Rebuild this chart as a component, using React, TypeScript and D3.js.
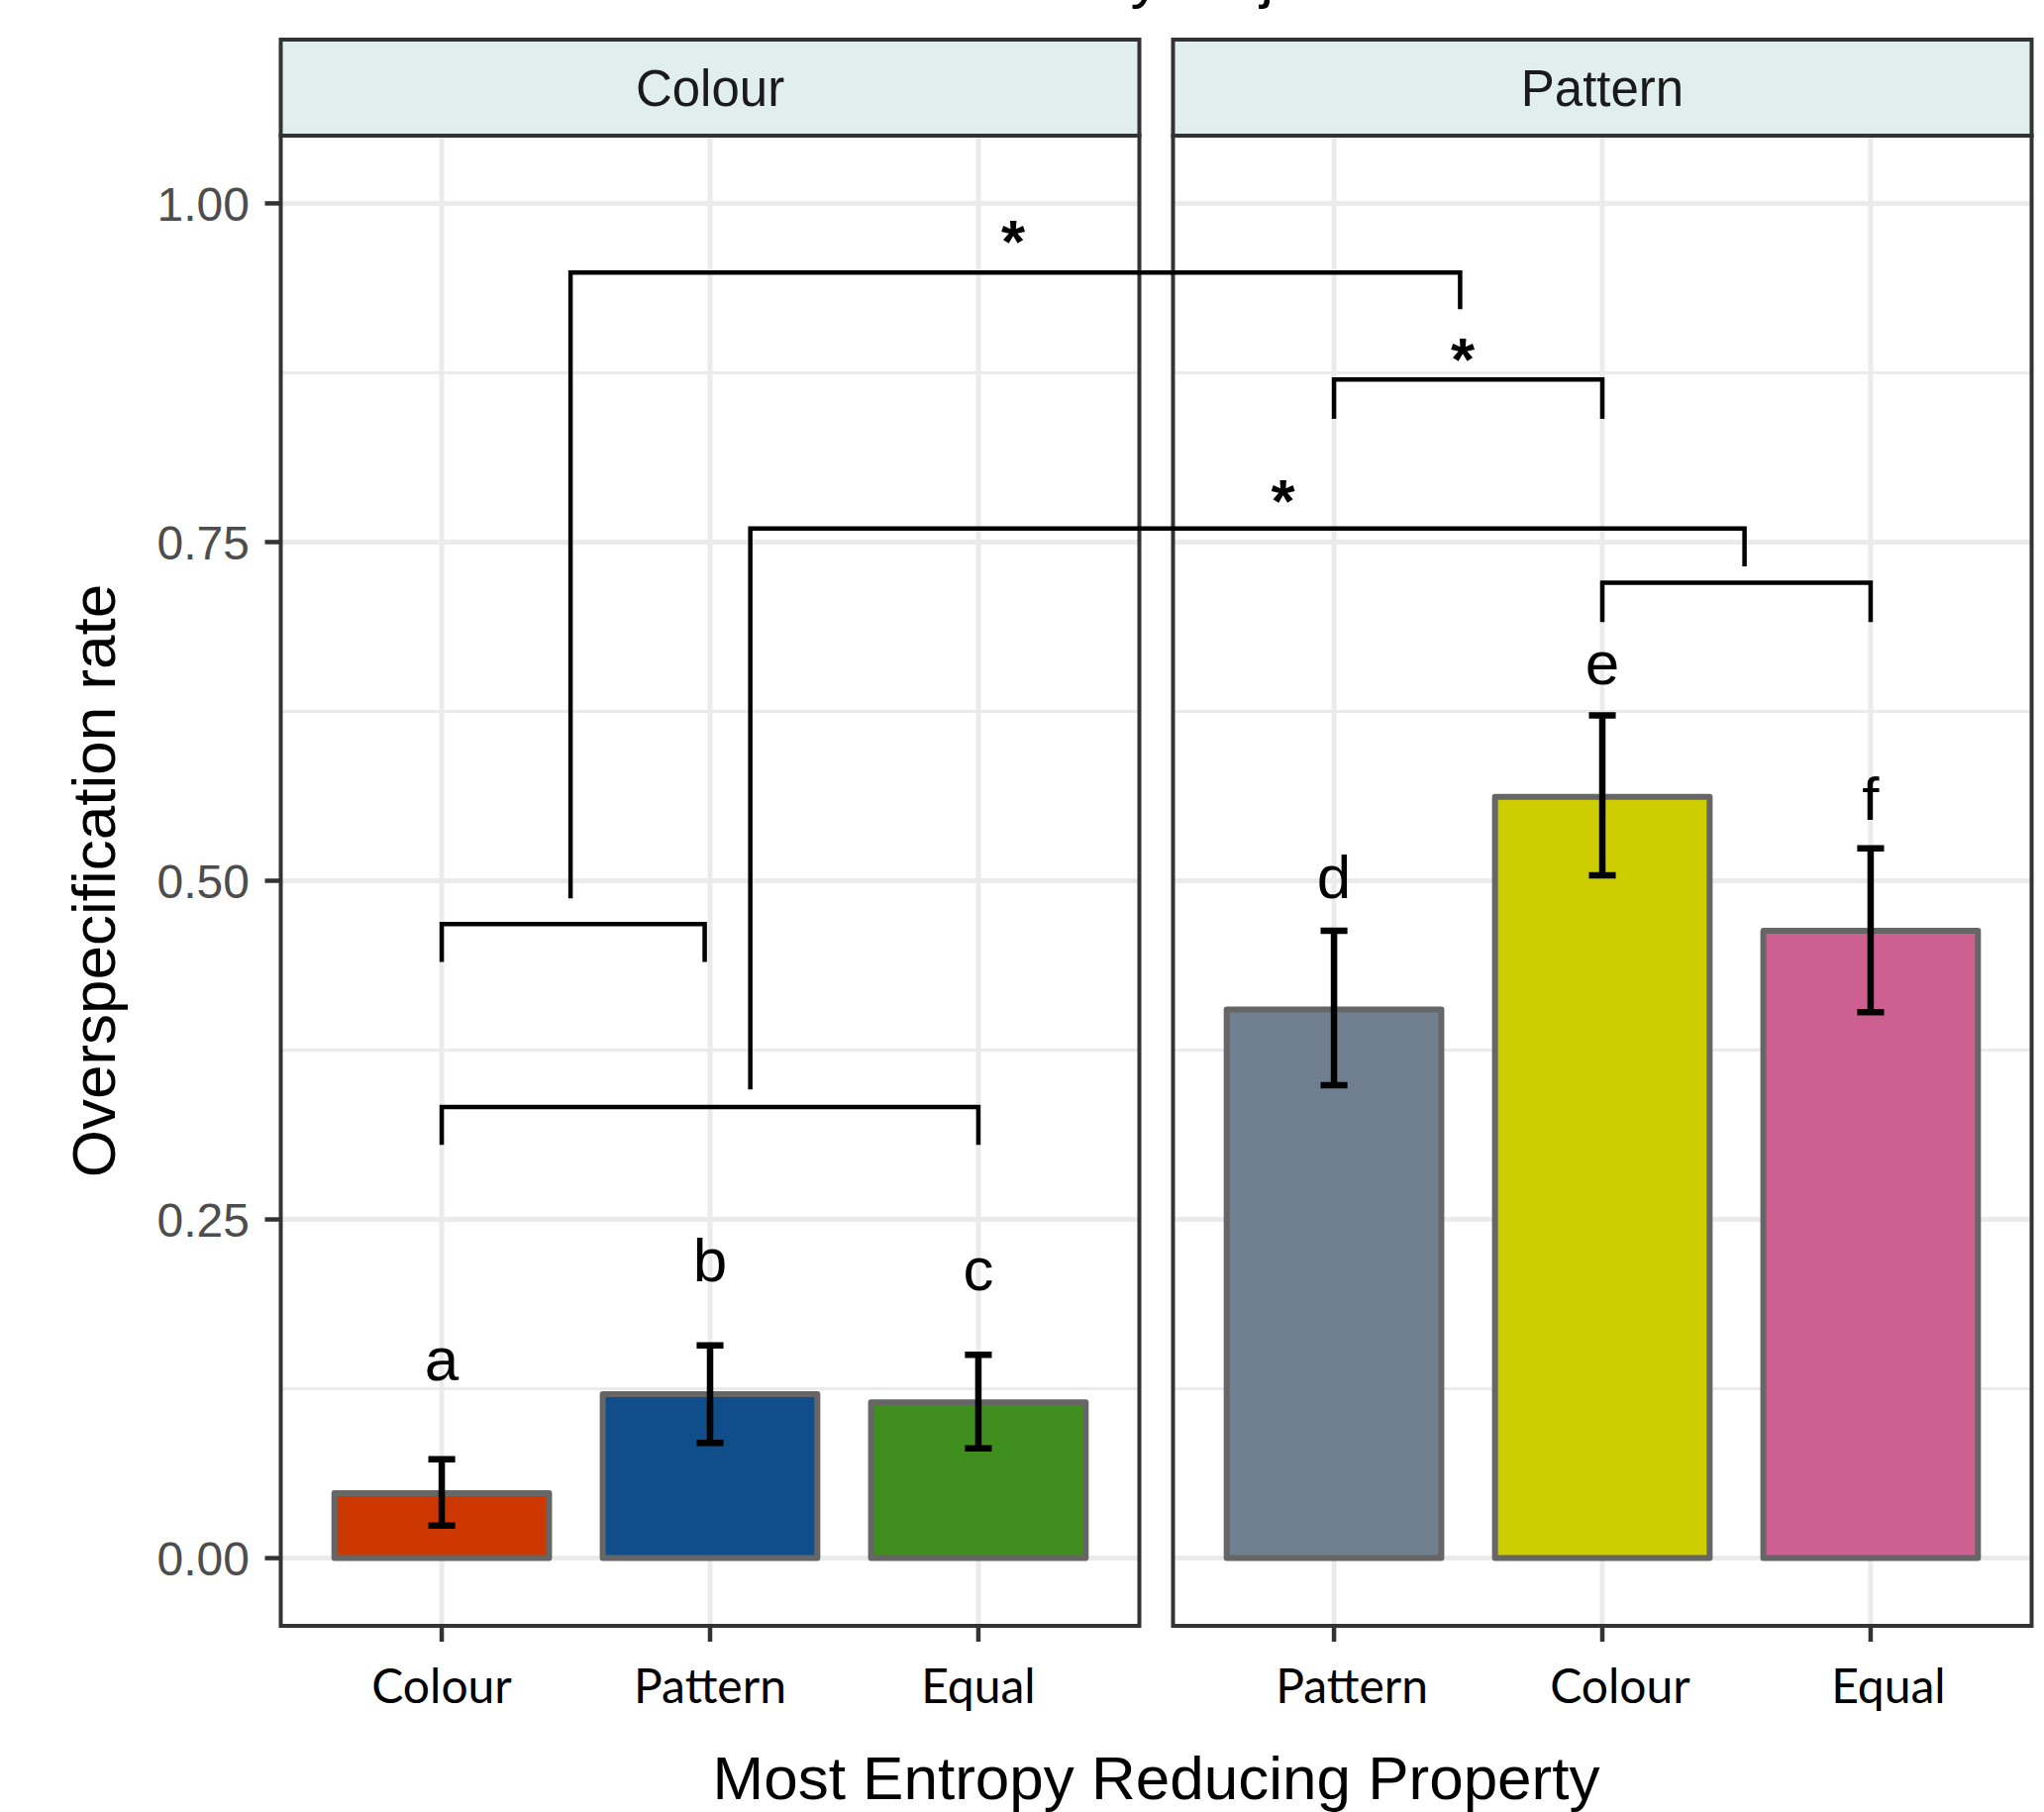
import React from 'react';
import * as d3 from 'd3';

// facet panels and their categories
const panelNames = ['Colour', 'Pattern'];
const panelCategories = [
  ['Colour', 'Pattern', 'Equal'],
  ['Pattern', 'Colour', 'Equal'],
];
const panelValues = [
  [0.048, 0.121, 0.115],
  [0.405, 0.562, 0.463],
];
const panelErrLow = [
  [0.024, 0.085, 0.081],
  [0.349, 0.504, 0.403],
];
const panelErrHigh = [
  [0.073, 0.157, 0.150],
  [0.463, 0.622, 0.524],
];
const panelFills = [
  ['#CD3700', '#104E8B', '#3F8E1E'],
  ['#708090', '#CDCD00', '#CD6090'],
];
const panelLetters = [
  ['a', 'b', 'c'],
  ['d', 'e', 'f'],
];
const panelLetterY = [
  [0.131, 0.204, 0.198],
  [0.487, 0.645, 0.545],
];
// tick labels of the second panel sit a little right of their ticks
const panelLabelNudge = [0, 18];

const yTicks = [0, 0.25, 0.5, 0.75, 1];
const yMinorTicks = [0.125, 0.375, 0.625, 0.875];

// pairwise brackets inside a panel: panel, x1, x2 (category units), y, leg end
const pairBrackets = [
  { panel: 0, x1: 1, x2: 1.98, y: 0.468, leg: 0.44 },
  { panel: 0, x1: 1, x2: 3, y: 0.333, leg: 0.305 },
  { panel: 1, x1: 1, x2: 2, y: 0.87, leg: 0.841 },
  { panel: 1, x1: 2, x2: 3, y: 0.72, leg: 0.691 },
];
// brackets across panels: start (left panel), end (right panel)
const crossBrackets = [
  { x1: 1.48, start: 0.487, y: 0.949, x2: 1.47, end: 0.922 },
  { x1: 2.15, start: 0.346, y: 0.76, x2: 2.53, end: 0.732 },
];
const stars = [
  { panel: 0, x: 3.13, y: 0.984 },
  { panel: 1, x: 1.48, y: 0.897 },
  { panel: 1, x: 0.81, y: 0.793 },
];

const W = 2064;
const H = 1830;
const PANEL_W = 867;
const panelLefts = [283.5, 1184.5];
const STRIP_TOP = 40;
const SANS = '"Liberation Sans", Arial, Helvetica, sans-serif';
const HUMANIST = 'Lato, "Open Sans", sans-serif';

const y = d3.scaleLinear().domain([-0.05, 1.05]).range([1642, 137]);
const xScales = panelLefts.map(left =>
  d3.scaleLinear().domain([0.4, 3.6]).range([left, left + PANEL_W])
);

const App = () => {
  const top = y(1.05);
  const bottom = y(-0.05);

  return (
    <svg width={W} height={H} style={{ position: 'absolute', left: 0, top: 0, background: '#fff' }}>
      {/* partly cropped title */}
      <text x={1164} y={-4} textAnchor="middle" fontFamily={SANS} fontSize={62} fill="#000">
        Rate by Object
      </text>

      {panelNames.map((name, p) => {
        const x = xScales[p];
        const left = panelLefts[p];
        return (
          <g key={name}>
            <rect x={left} y={top} width={PANEL_W} height={bottom - top} fill="#fff" />
            {yMinorTicks.map(t => (
              <line key={'mn' + t} x1={left} x2={left + PANEL_W} y1={y(t)} y2={y(t)} stroke="#EBEBEB" strokeWidth={3} />
            ))}
            {yTicks.map(t => (
              <line key={'mj' + t} x1={left} x2={left + PANEL_W} y1={y(t)} y2={y(t)} stroke="#EBEBEB" strokeWidth={5} />
            ))}
            {panelCategories[p].map((c, i) => (
              <line key={'v' + c} x1={x(i + 1)} x2={x(i + 1)} y1={top} y2={bottom} stroke="#EBEBEB" strokeWidth={5} />
            ))}

            {panelValues[p].map((v, i) => (
              <rect
                key={'bar' + i}
                x={x(i + 1 - 0.4)}
                width={x(i + 1 + 0.4) - x(i + 1 - 0.4)}
                y={y(v)}
                height={y(0) - y(v)}
                fill={panelFills[p][i]}
                stroke="#666666"
                strokeWidth={6}
                strokeLinejoin="round"
              />
            ))}

            {panelValues[p].map((v, i) => {
              const cx = x(i + 1);
              const hw = x(i + 1 + 0.05) - cx;
              const lo = y(panelErrLow[p][i]);
              const hi = y(panelErrHigh[p][i]);
              return (
                <path
                  key={'err' + i}
                  d={`M${cx - hw},${hi}H${cx + hw}M${cx},${hi}V${lo}M${cx - hw},${lo}H${cx + hw}`}
                  stroke="#000"
                  strokeWidth={6.5}
                  fill="none"
                />
              );
            })}

            {panelLetters[p].map((l, i) => (
              <text key={'lt' + i} x={x(i + 1)} y={y(panelLetterY[p][i])} textAnchor="middle" fontFamily={SANS} fontSize={62} fill="#000">
                {l}
              </text>
            ))}

            <rect x={left} y={top} width={PANEL_W} height={bottom - top} fill="none" stroke="#333333" strokeWidth={4} />

            {/* strip */}
            <rect x={left} y={STRIP_TOP} width={PANEL_W} height={top - STRIP_TOP} fill="#E0EEEE" stroke="#333333" strokeWidth={4} />
            <text x={left + PANEL_W / 2} y={(STRIP_TOP + top) / 2 + 18.5} textAnchor="middle" fontFamily={SANS} fontSize={51} fill="#1A1A1A">
              {name}
            </text>

            {/* x axis */}
            {panelCategories[p].map((c, i) => (
              <g key={'xt' + c}>
                <line x1={x(i + 1)} x2={x(i + 1)} y1={bottom} y2={bottom + 16} stroke="#333333" strokeWidth={4.5} />
                <text x={x(i + 1) + panelLabelNudge[p]} y={1720} textAnchor="middle" fontFamily={HUMANIST} fontSize={48} fill="#000">
                  {c}
                </text>
              </g>
            ))}
          </g>
        );
      })}

      {/* y axis */}
      {yTicks.map(t => (
        <g key={'yt' + t}>
          <line x1={panelLefts[0] - 16} x2={panelLefts[0]} y1={y(t)} y2={y(t)} stroke="#333333" strokeWidth={4.5} />
          <text x={252} y={y(t)} dy="0.36em" textAnchor="end" fontFamily={SANS} fontSize={48} fill="#4D4D4D">
            {d3.format('.2f')(t)}
          </text>
        </g>
      ))}

      {/* significance brackets */}
      {pairBrackets.map((b, i) => {
        const x = xScales[b.panel];
        return (
          <path
            key={'pb' + i}
            d={`M${x(b.x1)},${y(b.leg)}V${y(b.y)}H${x(b.x2)}V${y(b.leg)}`}
            stroke="#000"
            strokeWidth={4.5}
            fill="none"
          />
        );
      })}
      {crossBrackets.map((b, i) => (
        <path
          key={'cb' + i}
          d={`M${xScales[0](b.x1)},${y(b.start)}V${y(b.y)}H${xScales[1](b.x2)}V${y(b.end)}`}
          stroke="#000"
          strokeWidth={4.5}
          fill="none"
        />
      ))}
      {stars.map((s, i) => (
        <text key={'st' + i} x={xScales[s.panel](s.x)} y={y(s.y) + 38} textAnchor="middle" fontFamily={SANS} fontWeight="bold" fontSize={62} fill="#000">
          *
        </text>
      ))}

      {/* axis titles */}
      <text x={(panelLefts[0] + panelLefts[1] + PANEL_W) / 2} y={1817} textAnchor="middle" fontFamily={SANS} fontSize={62} fill="#000">
        Most Entropy Reducing Property
      </text>
      <text
        transform={`translate(116,${(top + bottom) / 2}) rotate(-90)`}
        textAnchor="middle"
        fontFamily={SANS}
        fontSize={62}
        fill="#000"
      >
        Overspecification rate
      </text>
    </svg>
  );
};

export default App;
